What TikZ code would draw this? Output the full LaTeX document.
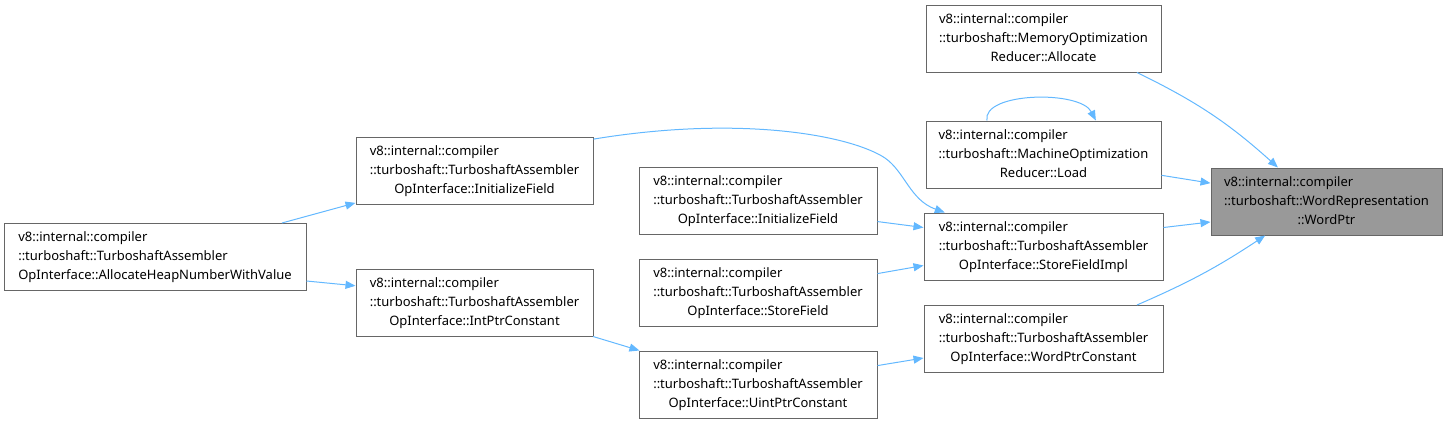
\documentclass[tikz,border=0pt]{standalone}
\usepackage{fontspec}
\setmainfont{Noto Sans}
\usetikzlibrary{arrows.meta}

\definecolor{edgeblue}{HTML}{63B8FF}
\definecolor{boxgray}{HTML}{666666}
\definecolor{hitgray}{HTML}{999999}

\newcommand{\fnlabel}[3]{\begin{tabular}{@{}l@{}}#1\\#2\\\multicolumn{1}{@{}c@{}}{#3}\end{tabular}}

\begin{document}
\begin{tikzpicture}[x=1pt, y=-1pt,
    fn/.style={draw=boxgray, line width=1pt, fill=white, minimum height=67pt,
      inner xsep=2pt, inner ysep=2pt, font=\fontsize{13}{19}\selectfont},
    hit/.style={fn, fill=hitgray},
    link/.style={draw=edgeblue, line width=1pt, -{Triangle[length=10pt, width=8pt]}}]
  \useasboundingbox (0,0) rectangle (1447,424);

  \node[hit, minimum width=231pt] (wordptr) at (1326.5,201.5)
    {\fnlabel{v8::internal::compiler}{::turboshaft::WordRepresentation}{::WordPtr}};
  \node[fn, minimum width=235pt] (allocate) at (1043.5,38.5)
    {\fnlabel{v8::internal::compiler}{::turboshaft::MemoryOptimization}{Reducer::Allocate}};
  \node[fn, minimum width=235pt] (load) at (1043.5,154.5)
    {\fnlabel{v8::internal::compiler}{::turboshaft::MachineOptimization}{Reducer::Load}};
  \node[fn, minimum width=239pt] (storeimpl) at (1043.5,246.5)
    {\fnlabel{v8::internal::compiler}{::turboshaft::TurboshaftAssembler}{OpInterface::StoreFieldImpl}};
  \node[fn, minimum width=239pt] (wordconst) at (1043.5,339)
    {\fnlabel{v8::internal::compiler}{::turboshaft::TurboshaftAssembler}{OpInterface::WordPtrConstant}};
  \node[fn, minimum width=238pt] (initfield2) at (758,200.5)
    {\fnlabel{v8::internal::compiler}{::turboshaft::TurboshaftAssembler}{OpInterface::InitializeField}};
  \node[fn, minimum width=238pt] (storefield) at (758,292.5)
    {\fnlabel{v8::internal::compiler}{::turboshaft::TurboshaftAssembler}{OpInterface::StoreField}};
  \node[fn, minimum width=238pt] (uintconst) at (758,384.5)
    {\fnlabel{v8::internal::compiler}{::turboshaft::TurboshaftAssembler}{OpInterface::UintPtrConstant}};
  \node[fn, minimum width=237pt] (initfield1) at (474.5,171)
    {\fnlabel{v8::internal::compiler}{::turboshaft::TurboshaftAssembler}{OpInterface::InitializeField}};
  \node[fn, minimum width=237pt] (intconst) at (474.5,302.5)
    {\fnlabel{v8::internal::compiler}{::turboshaft::TurboshaftAssembler}{OpInterface::IntPtrConstant}};
  \node[fn, minimum width=302pt] (heapnum) at (155,257)
    {\fnlabel{v8::internal::compiler}{::turboshaft::TurboshaftAssembler}{OpInterface::AllocateHeapNumberWithValue}};

  \draw[link] (allocate.-20) to[bend left=8] (wordptr.145);
  \draw[link] (load.-10) -- (wordptr.171);
  \draw[link] (load.149) .. controls (982,92) and (1080,90) .. (load.33);
  \draw[link] (storeimpl.9) -- (wordptr.190);
  \draw[link] (wordconst.20) to[bend right=5] (wordptr.209);
  \draw[link] (initfield1.15) .. controls (740,115) and (850,135) .. (885,158)
    .. controls (905,172) and (910,200) .. (storeimpl.161);
  \draw[link] (initfield2.-10) -- (storeimpl.171);
  \draw[link] (storefield.9) -- (storeimpl.189);
  \draw[link] (uintconst.9) -- (wordconst.189);
  \draw[link] (heapnum.15) -- (initfield1.195);
  \draw[link] (heapnum.-9) -- (intconst.172);
  \draw[link] (intconst.-16) -- (uintconst.164);
\end{tikzpicture}
\end{document}
